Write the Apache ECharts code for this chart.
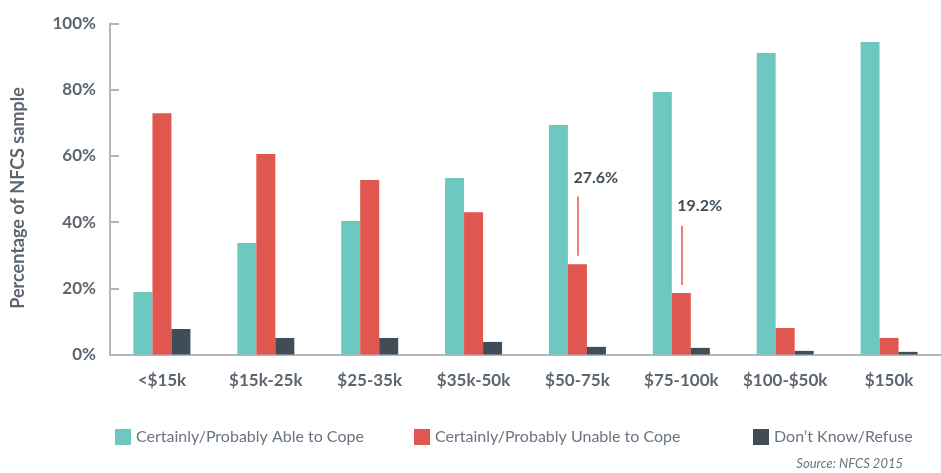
<!DOCTYPE html>
<html>
<head>
<meta charset="utf-8">
<script src="https://cdn.jsdelivr.net/npm/echarts@6/dist/echarts.min.js"></script>
<style>
html,body{margin:0;padding:0;background:#fff;}
#chart{width:941px;height:473px;}
</style>
</head>
<body>
<div id="chart"></div>
<script>
var categories = ['<$15k', '$15k-25k', '$25-35k', '$35k-50k', '$50-75k', '$75-100k', '$100-$50k', '$150k'];
var ableValues = [18.9, 33.7, 40.3, 53.3, 69.3, 79.3, 91.1, 94.4];
var unableValues = [72.9, 60.6, 52.7, 43.0, 27.3, 18.6, 8.0, 5.0];
var dontKnowValues = [7.7, 5.0, 5.0, 3.8, 2.3, 2.0, 1.1, 0.8];
var seriesNames = ['Certainly/Probably Able to Cope', 'Certainly/Probably Unable to Cope', "Don\u2019t Know/Refuse"];
var annotCategories = ['$50-75k', '$75-100k'];
var annotLabels = ['27.6%', '19.2%'];
var annotLineFrom = [29.8, 21.0];
var annotLineTo = [47.7, 38.9];
var annotTextAt = [53.4, 45.0];

var colors = ['#6dc8c0', '#e0574f', '#3f4d58'];
var FONT = 'Lato, "Noto Sans", sans-serif';
var labelColor = '#5b6670';

var chart = echarts.init(document.getElementById('chart'), null, {renderer: 'canvas'});

var markLineData = annotCategories.map(function (c, i) {
  return [{coord: [c, annotLineFrom[i]]}, {coord: [c, annotLineTo[i]]}];
});
var markPointData = annotCategories.map(function (c, i) {
  return {coord: [c, annotTextAt[i]], value: annotLabels[i]};
});

function legendAt(name, left) {
  return {
    data: [name], left: left, top: 424, icon: 'rect', itemWidth: 16, itemHeight: 16,
    selectedMode: false,
    textStyle: {fontFamily: FONT, fontSize: 16, color: '#6b7480'}
  };
}

var option = {
  backgroundColor: '#ffffff',
  animation: false,
  title: {
    text: 'Source: NFCS 2015', right: 33, top: 452,
    textStyle: {fontFamily: FONT, fontSize: 13, fontStyle: 'italic', fontWeight: 'normal', color: '#6b7480'}
  },
  legend: [
    legendAt(seriesNames[0], 110),
    legendAt(seriesNames[1], 409),
    legendAt(seriesNames[2], 748)
  ],
  grid: {left: 110, top: 23.5, width: 839, bottom: 118.5, containLabel: false},
  xAxis: {
    type: 'category', data: categories,
    axisLine: {lineStyle: {color: '#b3b7bd', width: 2}},
    axisTick: {show: false},
    axisLabel: {interval: 0, fontFamily: FONT, fontSize: 17, fontWeight: 'bold', color: labelColor, margin: 18}
  },
  yAxis: {
    type: 'value', min: 0, max: 100, interval: 20,
    name: 'Percentage of NFCS sample', nameLocation: 'middle', nameGap: 83,
    nameTextStyle: {fontFamily: FONT, fontSize: 18, fontWeight: 'bold', color: labelColor, padding: [0, 18, 0, 0]},
    axisLine: {show: true, lineStyle: {color: '#b3b7bd', width: 2}},
    axisTick: {show: true, inside: true, length: 9, lineStyle: {color: '#b3b7bd', width: 2}},
    splitLine: {show: false},
    axisLabel: {fontFamily: FONT, fontSize: 17, fontWeight: 'bold', color: labelColor, margin: 14, formatter: '{value}%'}
  },
  series: [
    {name: seriesNames[0], type: 'bar', data: ableValues, barWidth: 19, barGap: '0%', itemStyle: {color: colors[0]}},
    {name: seriesNames[1], type: 'bar', data: unableValues, barWidth: 19, barGap: '0%', itemStyle: {color: colors[1]},
      markLine: {
        silent: true, symbol: ['none', 'none'], label: {show: false},
        lineStyle: {color: colors[1], width: 1.5, type: 'solid'},
        data: markLineData
      },
      markPoint: {
        silent: true, symbol: 'rect', symbolSize: 0,
        label: {show: true, position: [-4, 0], align: 'left', verticalAlign: 'middle', formatter: '{c}',
          fontFamily: FONT, fontSize: 16, fontWeight: 'bold', color: '#3f4d58'},
        data: markPointData
      }
    },
    {name: seriesNames[2], type: 'bar', data: dontKnowValues, barWidth: 19, barGap: '0%', itemStyle: {color: colors[2]}}
  ]
};
chart.setOption(option);
</script>
</body>
</html>
